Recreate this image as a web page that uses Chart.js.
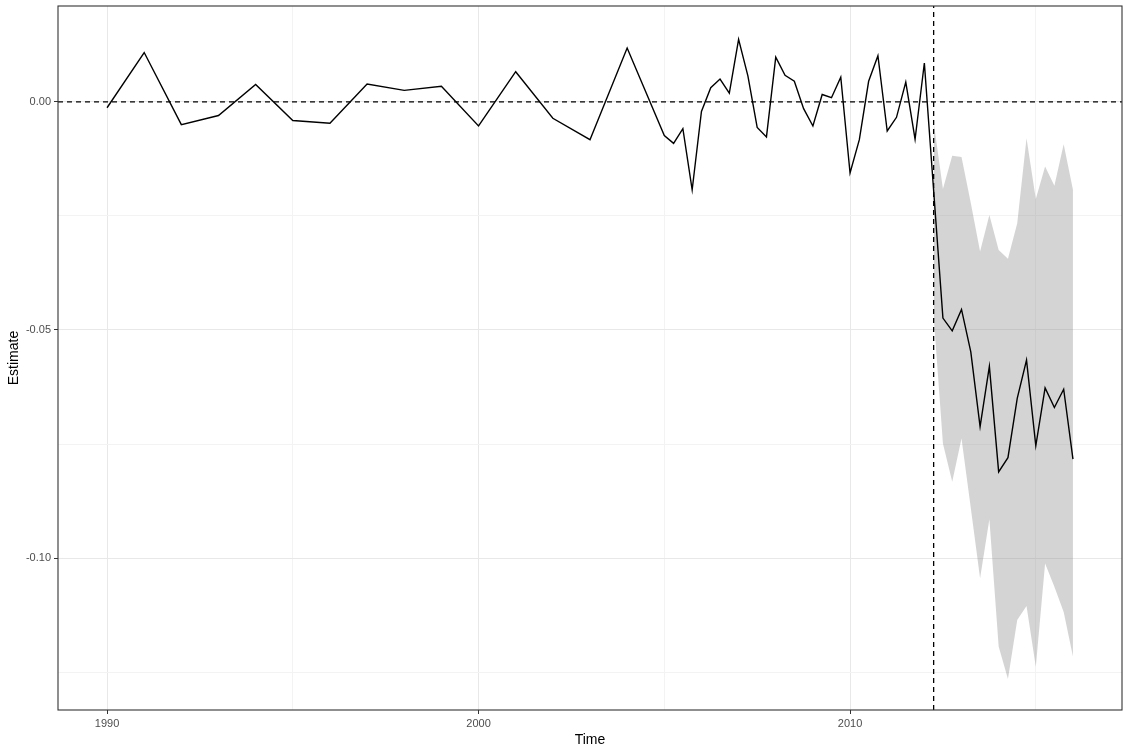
<!DOCTYPE html>
<html lang="en">
<head>
  <meta charset="UTF-8">
  <title>Estimate over time</title>
  <script src="https://cdn.jsdelivr.net/npm/chart.js"></script>
  <style>
    html, body {
      margin: 0;
      padding: 0;
      background: #ffffff;
    }
    #wrap {
      width: 1130px;
      height: 754px;
    }
  </style>
</head>
<body>
  <div id="wrap">
    <canvas id="chart" width="1130" height="754"></canvas>
  </div>

  <script>
    // estimate series: yearly up to 2004, then quarterly
    const lineTime = [
      1990, 1991, 1992, 1993, 1994, 1995, 1996, 1997, 1998, 1999,
      2000, 2001, 2002, 2003, 2004,
      2005, 2005.25, 2005.5, 2005.75, 2006, 2006.25, 2006.5, 2006.75,
      2007, 2007.25, 2007.5, 2007.75, 2008, 2008.25, 2008.5, 2008.75,
      2009, 2009.25, 2009.5, 2009.75, 2010, 2010.25, 2010.5, 2010.75,
      2011, 2011.25, 2011.5, 2011.75, 2012,
      2012.5, 2012.75, 2013, 2013.25, 2013.5, 2013.75, 2014, 2014.25,
      2014.5, 2014.75, 2015, 2015.25, 2015.5, 2015.75, 2016
    ];
    const lineEstimate = [
      -0.0013, 0.0108, -0.0050, -0.0030, 0.0038, -0.0041, -0.0047, 0.0039, 0.0025, 0.0034,
      -0.0053, 0.0066, -0.0036, -0.0083, 0.0118,
      -0.0074, -0.0091, -0.0059, -0.0193, -0.0021, 0.0031, 0.0050, 0.0019,
      0.0137, 0.0057, -0.0056, -0.0077, 0.0098, 0.0058, 0.0045, -0.0015,
      -0.0053, 0.0016, 0.0009, 0.0054, -0.0156, -0.0083, 0.0045, 0.0101,
      -0.0064, -0.0034, 0.0043, -0.0082, 0.0085,
      -0.0474, -0.0502, -0.0455, -0.0548, -0.0712, -0.0580, -0.0811, -0.0780,
      -0.0650, -0.0566, -0.0754, -0.0627, -0.0670, -0.0630, -0.0783
    ];

    // confidence band after the break
    const bandTime = [
      2012.25, 2012.5, 2012.75, 2013, 2013.25, 2013.5, 2013.75, 2014,
      2014.25, 2014.5, 2014.75, 2015, 2015.25, 2015.5, 2015.75, 2016
    ];
    const bandUpper = [
      -0.0044, -0.0191, -0.0118, -0.0121, -0.0222, -0.0328, -0.0248, -0.0325,
      -0.0344, -0.0266, -0.0080, -0.0213, -0.0142, -0.0184, -0.0093, -0.0193
    ];
    const bandLower = [
      -0.0469, -0.0749, -0.0833, -0.0738, -0.0890, -0.1044, -0.0915, -0.1194,
      -0.1265, -0.1136, -0.1105, -0.1238, -0.1012, -0.1063, -0.1118, -0.1216
    ];

    const breakTime = 2012.25;
    const refLevel = 0;

    const xRange = [1988.68, 2017.32];
    const yRange = [-0.1333, 0.021];

    const xTicks = [1990, 1995, 2000, 2005, 2010, 2015];
    const xTickLabels = ["1990", "", "2000", "", "2010", ""];
    const yTicks = [-0.125, -0.1, -0.075, -0.05, -0.025, 0];
    const yTickLabels = ["", "-0.10", "", "-0.05", "", "0.00"];

    const toPoints = (xs, ys) => xs.map((x, i) => ({ x: x, y: ys[i] }));

    // panel border like theme_bw
    const panelBorder = {
      id: "panelBorder",
      afterDatasetsDraw(chart) {
        const a = chart.chartArea;
        const c = chart.ctx;
        c.save();
        c.strokeStyle = "#333333";
        c.lineWidth = 1.1;
        c.strokeRect(a.left, a.top, a.right - a.left, a.bottom - a.top);
        c.restore();
      }
    };

    const fontFamily = "'Liberation Sans', Arial, sans-serif";

    new Chart(document.getElementById("chart"), {
      type: "line",
      data: {
        datasets: [
          {
            label: "zero",
            data: [{ x: xRange[0], y: refLevel }, { x: xRange[1], y: refLevel }],
            borderColor: "#000000",
            borderWidth: 1.3,
            borderDash: [5, 4],
            pointRadius: 0,
            order: 0
          },
          {
            label: "break",
            data: [{ x: breakTime, y: yRange[0] }, { x: breakTime, y: yRange[1] }],
            borderColor: "#000000",
            borderWidth: 1.3,
            borderDash: [5, 4],
            pointRadius: 0,
            order: 0
          },
          {
            label: "Estimate",
            data: toPoints(lineTime, lineEstimate),
            borderColor: "#000000",
            borderWidth: 1.4,
            pointRadius: 0,
            tension: 0,
            order: 1
          },
          {
            label: "upper",
            data: toPoints(bandTime, bandUpper),
            borderWidth: 0,
            borderColor: "rgba(0,0,0,0)",
            backgroundColor: "rgba(128,128,128,0.34)",
            fill: "+1",
            pointRadius: 0,
            order: 2
          },
          {
            label: "lower",
            data: toPoints(bandTime, bandLower),
            borderWidth: 0,
            borderColor: "rgba(0,0,0,0)",
            pointRadius: 0,
            fill: false,
            order: 3
          }
        ]
      },
      options: {
        responsive: false,
        animation: false,
        devicePixelRatio: 1,
        layout: { padding: { top: 6, right: 8, left: 0, bottom: 0 } },
        plugins: {
          legend: { display: false },
          tooltip: { enabled: false }
        },
        scales: {
          x: {
            type: "linear",
            min: xRange[0],
            max: xRange[1],
            afterBuildTicks: s => { s.ticks = xTicks.map(v => ({ value: v })); },
            afterFit: s => { s.height = 44; s.paddingLeft = 0; s.paddingRight = 0; },
            border: { display: false },
            grid: {
              color: c => xTickLabels[c.index] ? "#e8e8e8" : "#f3f3f3",
              lineWidth: 1,
              drawTicks: true,
              tickLength: 4,
              tickColor: c => xTickLabels[c.index] ? "#333333" : "rgba(0,0,0,0)"
            },
            ticks: {
              autoSkip: false,
              maxRotation: 0,
              padding: 3,
              color: "#4d4d4d",
              font: { family: fontFamily, size: 11 },
              callback: (v, i) => xTickLabels[i]
            },
            title: {
              display: true,
              text: "Time",
              color: "#000000",
              font: { family: fontFamily, size: 14 },
              padding: { top: 0, bottom: 5 }
            }
          },
          y: {
            type: "linear",
            min: yRange[0],
            max: yRange[1],
            afterBuildTicks: s => { s.ticks = yTicks.map(v => ({ value: v })); },
            afterFit: s => { s.width = 58; s.paddingTop = 0; s.paddingBottom = 0; },
            border: { display: false },
            grid: {
              color: c => yTickLabels[c.index] ? "#e8e8e8" : "#f3f3f3",
              lineWidth: 1,
              drawTicks: true,
              tickLength: 4,
              tickColor: c => yTickLabels[c.index] ? "#333333" : "rgba(0,0,0,0)"
            },
            ticks: {
              autoSkip: false,
              padding: 3,
              color: "#4d4d4d",
              font: { family: fontFamily, size: 11 },
              callback: (v, i) => yTickLabels[i]
            },
            title: {
              display: true,
              text: "Estimate",
              color: "#000000",
              font: { family: fontFamily, size: 14 },
              padding: { top: 6, bottom: 0 }
            }
          }
        }
      },
      plugins: [panelBorder]
    });
  </script>
</body>
</html>
